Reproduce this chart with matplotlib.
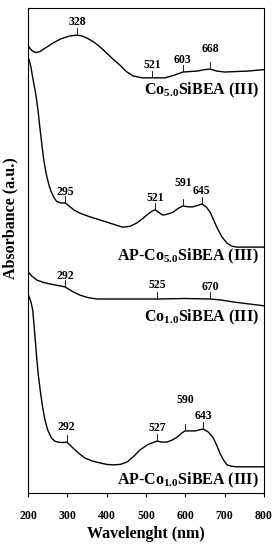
import numpy as np
import matplotlib
matplotlib.use('Agg')
import matplotlib.pyplot as plt

plt.rcParams['font.family'] = ['Liberation Serif', 'DejaVu Serif']
plt.rcParams['font.weight'] = 'bold'
plt.rcParams['mathtext.fontset'] = 'custom'
plt.rcParams['mathtext.rm'] = 'Liberation Serif:bold'
plt.rcParams['mathtext.bf'] = 'Liberation Serif:bold'
plt.rcParams['mathtext.it'] = 'Liberation Serif:bold'

# Spectra (wavelength nm, absorbance a.u.)
wl_co50 = [200, 210, 220, 230, 245, 264, 285, 305, 322, 335, 350, 365, 380, 400, 417, 434, 450, 467, 490, 515,
           548, 570, 594, 612, 630, 650, 663, 680, 700, 730, 760, 800]
abs_co50 = [0.922, 0.912, 0.908, 0.910, 0.918, 0.928, 0.937, 0.942, 0.944, 0.943, 0.938, 0.931, 0.922, 0.907, 0.894, 0.882, 0.869, 0.860, 0.856, 0.856,
            0.856, 0.861, 0.868, 0.869, 0.870, 0.873, 0.874, 0.870, 0.868, 0.869, 0.870, 0.873]

wl_apco50 = [200, 203, 207, 213, 218, 222, 226, 230, 235, 239, 244, 248, 254, 260, 266, 273, 283, 294, 300, 307,
             318, 332, 355, 383, 410, 441, 460, 477, 490, 502, 513, 523, 533, 543, 555, 569, 582, 594, 607, 619,
             632, 642, 653, 663, 672, 680, 693, 706, 718, 731, 760, 800]
abs_apco50 = [0.897, 0.893, 0.880, 0.852, 0.830, 0.810, 0.785, 0.755, 0.720, 0.693, 0.668, 0.652, 0.633, 0.619, 0.609, 0.601, 0.598, 0.598, 0.595, 0.590,
              0.583, 0.577, 0.570, 0.563, 0.556, 0.548, 0.550, 0.557, 0.565, 0.573, 0.580, 0.584, 0.578, 0.573, 0.575, 0.579, 0.587, 0.592, 0.590, 0.590,
              0.593, 0.596, 0.590, 0.579, 0.563, 0.548, 0.528, 0.515, 0.509, 0.507, 0.507, 0.507]

wl_co10 = [200, 210, 223, 240, 256, 275, 294, 312, 332, 352, 375, 450, 528, 600, 663, 690, 721, 760, 800]
abs_co10 = [0.456, 0.447, 0.439, 0.434, 0.431, 0.428, 0.425, 0.416, 0.408, 0.403, 0.400, 0.400, 0.400, 0.401, 0.400, 0.398, 0.394, 0.390, 0.386]

wl_apco10 = [200, 204, 208, 212, 216, 219, 222, 226, 231, 237, 243, 250, 260, 268, 276, 287, 298, 308, 319, 332,
             345, 363, 383, 400, 416, 435, 452, 468, 485, 505, 528, 540, 553, 566, 579, 590, 599, 612, 625, 645,
             658, 670, 680, 688, 697, 706, 718, 731, 800]
abs_apco10 = [0.410, 0.402, 0.392, 0.377, 0.340, 0.310, 0.280, 0.245, 0.212, 0.178, 0.151, 0.130, 0.113, 0.107, 0.105, 0.104, 0.105, 0.098, 0.089, 0.080,
              0.072, 0.066, 0.062, 0.059, 0.058, 0.059, 0.064, 0.075, 0.089, 0.100, 0.107, 0.105, 0.105, 0.109, 0.115, 0.123, 0.128, 0.128, 0.128, 0.132,
              0.126, 0.115, 0.098, 0.082, 0.068, 0.058, 0.055, 0.054, 0.054]

# peak labels and where their marks sit
peaks_co50 = [328, 521, 603, 668]
pos_co50 = [325, 515, 594, 663]
peaks_apco50 = [295, 521, 591, 645]
pos_apco50 = [294, 523, 594, 642]
peaks_co10 = [292, 525, 670]
pos_co10 = [294, 528, 663]
peaks_apco10 = [292, 527, 590, 643]
pos_apco10 = [298, 528, 599, 645]

names = ['Co$_{5.0}$SiBEA (III)', 'AP-Co$_{5.0}$SiBEA (III)',
         'Co$_{1.0}$SiBEA (III)', 'AP-Co$_{1.0}$SiBEA (III)']

fig = plt.figure(figsize=(2.78, 5.5), dpi=100)
ax = fig.add_axes([28/278, 57/550, 236/278, 485/550])

series = [(wl_co50, abs_co50, peaks_co50, pos_co50, [13, 13, 12, 20], 0.831),
          (wl_apco50, abs_apco50, peaks_apco50, pos_apco50, [11, 12, 23, 13], 0.487),
          (wl_co10, abs_co10, peaks_co10, pos_co10, [11, 14, 12], 0.363),
          (wl_apco10, abs_apco10, peaks_apco10, pos_apco10, [15, 13, 31, 13], 0.027)]

px = 1/485.
for (x, y, labs, pos, offs, ylab), name in zip(series, names):
    ax.plot(x, y, color='black', lw=1.0)
    for lab, p, off in zip(labs, pos, offs):
        base = np.interp(p, x, y)
        ax.plot([p, p], [base + 1*px, base + 7*px], color='black', lw=0.6)
        ax.text(p, base + off*px, str(lab), ha='center', va='center', fontsize=8.5, fontweight='bold')
    ax.text(786, ylab, name, ha='right', va='center', fontsize=11.5, fontweight='bold')

ax.set_xlim(200, 800)
ax.set_ylim(0, 1)
ax.set_xticks([200, 300, 400, 500, 600, 700, 800])
ax.set_yticks([])
ax.tick_params(axis='x', direction='out', length=3, width=0.8, labelsize=8.5, pad=9)
for lbl in ax.get_xticklabels():
    lbl.set_fontweight('bold')
for sp in ax.spines.values():
    sp.set_linewidth(0.8)
ax.set_xlabel('Wavelenght (nm)', fontsize=11.5, fontweight='bold', labelpad=3)
ax.set_ylabel('Absorbance (a.u.)', fontsize=11.5, fontweight='bold')
ax.yaxis.set_label_coords(-0.04, 0.567)

fig.savefig('out.png', dpi=100)
